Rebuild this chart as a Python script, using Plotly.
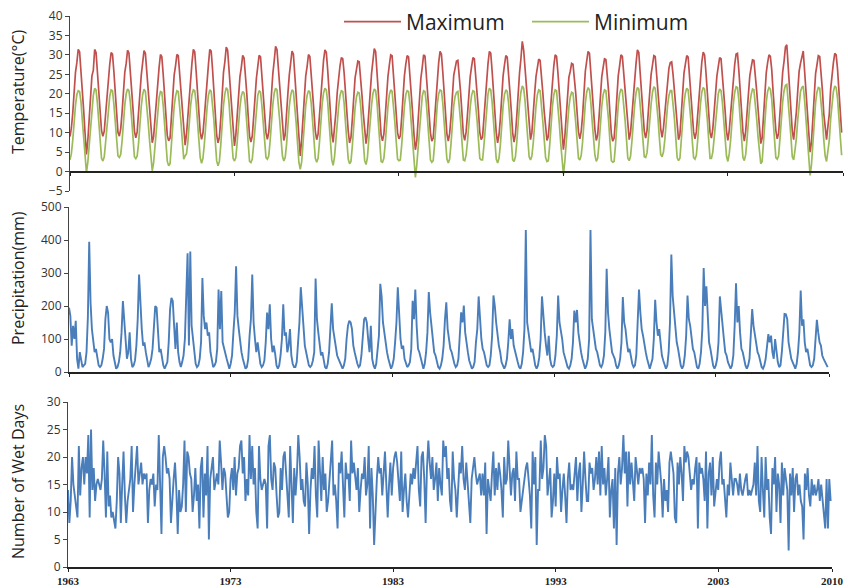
import plotly.graph_objects as go

years = list(range(1963, 2010))

tmax = [
    [9.0, 11.2, 15.0, 21.0, 25.5, 28.0, 31.4, 30.8, 26.2, 21.0, 15.6, 9.8],
    [4.4, 8.0, 13.2, 20.5, 24.6, 26.0, 31.4, 30.6, 25.5, 20.2, 15.0, 10.5],
    [9.1, 10.4, 14.8, 19.8, 24.5, 27.6, 30.6, 30.2, 25.8, 20.5, 15.2, 10.1],
    [9.1, 11.0, 15.2, 21.2, 25.6, 27.8, 31.2, 30.5, 26.4, 21.3, 16.0, 10.4],
    [8.7, 10.2, 14.1, 20.0, 24.8, 28.2, 31.1, 30.4, 25.6, 20.4, 15.8, 9.6],
    [7.4, 9.0, 13.8, 19.6, 24.0, 26.8, 30.1, 29.5, 25.0, 19.9, 14.6, 9.2],
    [7.9, 8.6, 14.0, 20.4, 24.8, 27.2, 30.1, 29.8, 25.2, 20.1, 15.1, 9.0],
    [6.8, 9.6, 14.3, 20.2, 25.4, 28.0, 31.4, 30.8, 26.0, 20.6, 15.5, 10.2],
    [8.3, 9.9, 14.0, 19.2, 24.2, 27.5, 31.4, 31.0, 26.3, 21.0, 15.4, 9.4],
    [7.4, 8.8, 13.6, 20.0, 25.5, 28.2, 32.0, 31.2, 26.0, 20.2, 14.9, 9.8],
    [6.6, 9.4, 14.5, 20.6, 24.4, 26.8, 29.9, 29.2, 25.3, 20.0, 14.4, 9.1],
    [7.6, 9.2, 14.0, 19.5, 24.0, 27.0, 29.9, 29.5, 25.0, 20.4, 15.0, 10.0],
    [8.3, 10.1, 14.6, 20.8, 25.2, 28.5, 32.2, 31.4, 26.2, 21.0, 16.0, 12.0],
    [8.0, 9.5, 13.8, 20.2, 24.8, 27.4, 31.0, 30.2, 25.4, 20.0, 14.7, 9.0],
    [4.0, 8.2, 14.2, 20.6, 24.6, 27.0, 30.1, 29.6, 25.6, 20.8, 15.4, 10.3],
    [8.2, 9.6, 14.6, 21.0, 25.8, 28.6, 31.3, 30.7, 26.2, 20.5, 15.0, 9.8],
    [7.5, 10.8, 15.2, 20.4, 24.6, 27.2, 29.3, 29.0, 25.4, 20.2, 14.6, 10.4],
    [7.4, 8.8, 13.5, 19.6, 24.1, 26.2, 28.4, 28.2, 24.8, 19.8, 14.9, 9.6],
    [7.2, 10.0, 15.5, 20.8, 25.1, 28.4, 31.6, 30.8, 26.0, 20.1, 14.8, 9.4],
    [7.9, 9.6, 14.2, 20.0, 24.5, 27.4, 30.0, 29.8, 25.1, 20.6, 15.3, 10.0],
    [8.4, 9.2, 13.8, 19.5, 24.6, 27.6, 29.8, 29.5, 25.2, 20.0, 15.0, 9.5],
    [5.6, 7.8, 13.0, 19.8, 24.0, 26.8, 30.0, 29.7, 25.4, 20.4, 14.8, 9.9],
    [7.8, 8.6, 13.8, 20.4, 25.2, 28.0, 30.9, 30.2, 25.6, 20.0, 15.4, 9.7],
    [7.8, 9.8, 14.0, 20.6, 24.8, 26.6, 28.4, 28.6, 24.9, 20.3, 15.0, 9.6],
    [8.0, 10.2, 14.6, 20.3, 24.4, 27.0, 29.3, 29.0, 25.2, 20.8, 15.6, 10.1],
    [8.2, 8.9, 13.4, 19.4, 24.6, 27.8, 30.9, 30.4, 25.8, 20.2, 15.0, 10.0],
    [7.4, 9.4, 13.6, 20.2, 24.6, 27.4, 29.8, 29.4, 25.6, 20.4, 15.5, 9.9],
    [7.6, 9.6, 14.4, 20.8, 25.4, 29.0, 33.5, 31.2, 26.6, 20.8, 15.2, 10.6],
    [8.2, 10.0, 14.0, 20.0, 24.4, 26.8, 28.9, 28.6, 25.0, 20.2, 15.4, 10.4],
    [8.0, 9.0, 13.6, 20.4, 24.8, 27.2, 30.0, 29.6, 25.4, 20.0, 14.6, 9.5],
    [5.6, 8.8, 14.0, 20.2, 24.2, 25.8, 27.8, 27.6, 24.6, 20.1, 15.2, 10.2],
    [8.4, 10.4, 14.4, 21.0, 25.8, 28.4, 30.9, 30.4, 25.4, 20.2, 15.6, 10.8],
    [8.0, 9.4, 14.0, 20.0, 24.4, 26.8, 29.0, 28.8, 25.2, 20.5, 14.8, 9.6],
    [7.8, 8.6, 13.4, 19.6, 24.6, 27.2, 30.0, 29.6, 25.2, 20.6, 15.6, 10.2],
    [8.2, 10.1, 14.6, 20.6, 25.0, 27.8, 31.3, 30.6, 25.4, 20.4, 15.4, 10.4],
    [8.6, 10.6, 15.6, 21.4, 25.0, 27.4, 29.8, 29.6, 25.6, 21.0, 16.0, 11.0],
    [8.8, 11.2, 15.0, 20.6, 24.2, 26.6, 28.0, 28.2, 25.0, 20.6, 15.4, 10.6],
    [8.2, 9.4, 14.8, 21.4, 25.4, 27.6, 29.8, 29.4, 25.2, 20.6, 15.0, 10.2],
    [8.4, 10.2, 15.0, 20.8, 25.2, 28.2, 30.7, 30.0, 25.6, 20.8, 15.2, 10.0],
    [8.6, 11.0, 15.4, 20.6, 24.6, 27.0, 29.3, 29.0, 25.0, 20.4, 15.6, 10.4],
    [8.0, 10.6, 14.8, 20.6, 24.8, 27.6, 30.2, 30.4, 26.0, 20.6, 15.2, 10.2],
    [7.8, 10.4, 15.2, 20.8, 24.6, 26.8, 28.7, 28.6, 25.4, 20.8, 16.2, 10.8],
    [7.2, 8.6, 14.0, 21.2, 25.4, 28.0, 30.0, 29.6, 26.2, 20.6, 15.6, 10.6],
    [8.4, 9.8, 15.0, 21.4, 25.6, 28.4, 32.0, 32.6, 26.4, 21.4, 15.8, 10.4],
    [8.2, 11.4, 15.4, 20.8, 25.8, 27.8, 29.8, 31.0, 25.8, 20.8, 15.6, 11.0],
    [5.0, 7.6, 14.6, 20.6, 25.2, 27.4, 29.8, 29.6, 25.6, 20.8, 14.8, 10.6],
    [8.2, 11.6, 14.8, 21.2, 25.0, 28.0, 30.4, 30.0, 26.4, 21.0, 13.6, 10.0],
]

tmin = [
    [3.0, 4.6, 8.0, 13.0, 17.0, 19.8, 20.8, 20.6, 18.0, 13.2, 8.2, 3.2],
    [-0.3, 2.4, 6.8, 12.6, 16.6, 19.6, 21.4, 21.0, 17.6, 12.8, 7.6, 3.4],
    [2.7, 3.8, 7.6, 12.4, 16.8, 19.4, 21.0, 20.8, 17.4, 13.0, 8.0, 4.0],
    [3.6, 4.4, 7.8, 13.2, 17.2, 20.0, 21.2, 20.8, 18.0, 13.4, 8.6, 3.8],
    [3.3, 4.0, 7.2, 12.4, 16.8, 19.8, 21.2, 20.6, 17.4, 12.8, 8.2, 3.0],
    [0.2, 2.2, 6.6, 12.0, 16.2, 19.0, 20.6, 20.4, 17.0, 12.4, 7.4, 2.6],
    [1.5, 2.0, 7.0, 12.6, 16.8, 19.4, 20.8, 20.6, 17.4, 12.6, 7.6, 3.2],
    [4.0, 4.6, 7.6, 12.8, 17.0, 19.8, 21.0, 20.8, 17.8, 13.0, 8.0, 3.6],
    [2.1, 3.4, 7.0, 12.2, 16.4, 19.6, 21.0, 20.6, 17.6, 13.2, 7.8, 2.8],
    [1.5, 2.6, 6.8, 12.4, 17.0, 20.0, 21.6, 21.0, 17.8, 12.6, 7.4, 3.4],
    [2.7, 3.6, 7.6, 12.8, 16.6, 19.4, 20.6, 20.2, 17.2, 12.4, 7.2, 2.6],
    [2.3, 3.2, 7.0, 12.0, 16.4, 19.6, 20.8, 20.4, 17.0, 12.8, 7.8, 3.6],
    [3.2, 4.0, 7.8, 13.0, 17.2, 20.2, 21.4, 21.0, 17.8, 13.2, 8.4, 4.0],
    [2.7, 3.6, 7.0, 12.6, 16.8, 19.6, 21.0, 20.6, 17.4, 12.6, 7.4, 2.4],
    [0.6, 2.4, 7.2, 12.8, 17.0, 19.6, 20.8, 20.4, 17.6, 13.0, 8.0, 3.4],
    [2.4, 3.4, 7.4, 13.0, 17.4, 20.2, 21.4, 21.0, 18.0, 12.8, 7.6, 3.0],
    [1.6, 3.8, 8.0, 12.8, 16.8, 19.6, 20.8, 20.6, 17.6, 12.6, 7.2, 3.2],
    [2.0, 2.6, 6.6, 12.2, 16.4, 19.2, 20.4, 20.2, 17.2, 12.2, 7.4, 2.8],
    [1.8, 3.6, 8.2, 13.2, 17.0, 20.0, 21.2, 20.8, 17.8, 12.6, 7.2, 2.6],
    [2.4, 3.4, 7.2, 12.4, 16.8, 19.8, 21.0, 20.6, 17.2, 12.8, 7.8, 3.2],
    [2.8, 3.0, 6.8, 12.2, 16.8, 19.8, 20.8, 20.6, 17.4, 12.4, 7.6, 2.4],
    [-1.5, 1.6, 6.2, 12.4, 16.4, 19.4, 20.8, 20.6, 17.6, 12.8, 7.4, 3.0],
    [2.4, 2.8, 7.0, 12.8, 17.4, 20.0, 21.0, 20.8, 17.6, 12.6, 8.0, 3.2],
    [2.2, 3.2, 7.2, 12.8, 17.0, 19.4, 20.4, 20.6, 17.4, 12.8, 7.6, 3.0],
    [2.8, 4.2, 7.6, 12.6, 16.6, 19.6, 20.8, 20.6, 17.6, 13.2, 8.2, 3.4],
    [3.0, 3.0, 6.6, 12.0, 16.8, 20.0, 21.4, 21.0, 17.8, 12.6, 7.6, 3.2],
    [2.2, 3.4, 6.8, 12.6, 16.8, 19.8, 21.0, 20.6, 17.6, 12.8, 8.0, 3.0],
    [2.6, 3.8, 7.6, 13.0, 17.4, 20.4, 22.0, 21.4, 18.2, 13.2, 8.0, 3.8],
    [3.0, 4.0, 7.4, 12.6, 16.8, 19.8, 21.0, 20.8, 17.6, 12.8, 8.2, 3.6],
    [2.6, 2.8, 6.8, 12.8, 16.8, 19.8, 21.0, 20.8, 17.4, 12.4, 7.4, 2.6],
    [-0.7, 2.4, 7.0, 12.6, 16.6, 19.2, 20.4, 20.2, 17.2, 12.6, 8.0, 3.4],
    [3.0, 4.2, 7.6, 13.2, 17.6, 20.4, 21.6, 21.0, 17.8, 12.8, 8.4, 4.2],
    [2.6, 3.4, 7.2, 12.6, 16.8, 19.8, 21.0, 20.8, 17.6, 13.0, 7.6, 2.8],
    [2.4, 2.6, 6.8, 12.2, 17.0, 20.0, 21.2, 20.8, 17.6, 13.2, 8.4, 3.4],
    [2.8, 4.0, 7.8, 13.0, 17.2, 20.2, 21.6, 21.2, 17.8, 13.0, 8.2, 3.8],
    [3.6, 4.8, 8.6, 13.8, 17.4, 20.4, 21.8, 21.4, 18.4, 13.8, 8.8, 4.4],
    [3.8, 5.0, 8.2, 13.2, 17.0, 19.6, 20.8, 20.8, 17.8, 13.6, 8.6, 3.6],
    [2.8, 3.4, 8.0, 13.6, 17.6, 20.2, 21.4, 21.0, 17.8, 13.2, 8.0, 3.6],
    [3.2, 4.2, 8.2, 13.2, 17.4, 20.4, 21.6, 21.2, 18.0, 13.4, 8.2, 3.4],
    [3.4, 5.0, 8.6, 13.2, 17.2, 20.0, 21.2, 20.8, 17.8, 13.2, 8.6, 4.0],
    [2.6, 4.6, 8.0, 13.2, 17.4, 20.4, 21.8, 21.6, 18.4, 13.4, 8.2, 3.6],
    [2.8, 4.4, 8.4, 13.4, 17.4, 19.8, 21.2, 21.0, 18.0, 13.6, 9.0, 4.2],
    [2.0, 2.6, 7.4, 13.8, 17.8, 20.6, 21.6, 21.2, 18.6, 13.4, 8.8, 3.6],
    [3.2, 4.0, 8.4, 14.0, 18.0, 20.8, 22.2, 22.4, 18.6, 14.4, 9.0, 3.8],
    [3.0, 5.6, 8.6, 13.4, 18.2, 20.6, 21.6, 22.0, 18.2, 13.6, 8.6, 4.4],
    [-1.0, 1.8, 8.0, 13.4, 17.8, 20.4, 21.6, 21.4, 18.2, 13.8, 8.0, 4.0],
    [2.6, 5.4, 8.0, 13.6, 17.6, 20.6, 22.0, 21.6, 18.8, 13.8, 6.8, 4.2],
]

precip = [
    [195, 170, 80, 140, 100, 155, 40, 10, 60, 30, 15, 20],
    [25, 60, 165, 395, 210, 130, 90, 60, 70, 40, 20, 15],
    [20, 40, 70, 160, 200, 180, 100, 90, 100, 50, 30, 10],
    [15, 30, 60, 120, 215, 150, 90, 40, 60, 120, 40, 15],
    [20, 35, 80, 160, 295, 200, 130, 80, 90, 60, 30, 15],
    [25, 40, 70, 130, 200, 195, 120, 60, 70, 40, 20, 10],
    [20, 30, 90, 190, 225, 215, 140, 70, 150, 60, 30, 15],
    [30, 50, 100, 210, 360, 80, 365, 140, 100, 50, 25, 15],
    [20, 40, 90, 285, 170, 130, 150, 110, 120, 60, 30, 15],
    [20, 30, 70, 250, 130, 245, 90, 70, 60, 40, 25, 10],
    [25, 50, 120, 180, 320, 170, 130, 90, 60, 40, 20, 10],
    [15, 40, 110, 160, 295, 150, 100, 60, 90, 50, 25, 15],
    [20, 35, 90, 180, 130, 205, 100, 60, 80, 55, 20, 10],
    [20, 50, 100, 205, 110, 120, 60, 80, 130, 50, 25, 15],
    [15, 30, 80, 150, 257, 190, 150, 80, 60, 35, 20, 15],
    [20, 35, 60, 283, 160, 120, 80, 50, 60, 35, 15, 10],
    [25, 60, 140, 208, 130, 100, 80, 50, 40, 30, 20, 10],
    [20, 40, 100, 140, 155, 150, 130, 80, 60, 40, 25, 15],
    [20, 50, 120, 160, 166, 150, 100, 60, 140, 40, 20, 10],
    [25, 60, 110, 267, 229, 150, 120, 80, 60, 40, 20, 10],
    [20, 40, 90, 150, 257, 180, 100, 70, 80, 40, 25, 15],
    [20, 30, 70, 216, 160, 250, 140, 70, 60, 40, 20, 10],
    [25, 60, 120, 242, 180, 140, 100, 60, 50, 30, 15, 10],
    [20, 40, 80, 160, 211, 130, 100, 70, 60, 40, 25, 15],
    [20, 40, 100, 181, 150, 201, 120, 80, 60, 35, 20, 10],
    [15, 30, 90, 130, 229, 140, 100, 70, 60, 40, 20, 15],
    [20, 50, 110, 232, 200, 150, 110, 80, 60, 30, 20, 10],
    [20, 40, 90, 160, 100, 130, 80, 60, 50, 30, 15, 10],
    [25, 60, 130, 430, 150, 120, 90, 60, 70, 40, 20, 10],
    [20, 45, 100, 229, 160, 120, 80, 50, 110, 40, 20, 15],
    [20, 50, 110, 232, 150, 130, 100, 60, 40, 30, 15, 10],
    [20, 40, 90, 186, 150, 188, 120, 80, 60, 40, 20, 10],
    [20, 40, 100, 430, 160, 120, 100, 70, 60, 40, 20, 15],
    [25, 50, 120, 313, 180, 130, 90, 60, 50, 40, 20, 10],
    [20, 40, 90, 227, 150, 130, 90, 60, 70, 40, 25, 15],
    [20, 50, 140, 250, 180, 130, 110, 80, 60, 40, 20, 10],
    [25, 40, 100, 219, 150, 110, 130, 80, 50, 35, 20, 10],
    [20, 60, 150, 356, 230, 180, 130, 90, 70, 40, 20, 10],
    [20, 50, 110, 232, 160, 140, 100, 70, 60, 30, 15, 10],
    [25, 60, 130, 315, 200, 260, 150, 90, 70, 40, 20, 10],
    [20, 40, 90, 229, 180, 130, 100, 60, 50, 30, 20, 10],
    [20, 50, 140, 269, 150, 200, 120, 70, 60, 35, 20, 10],
    [20, 40, 100, 191, 140, 110, 80, 60, 50, 30, 15, 10],
    [20, 40, 80, 115, 90, 110, 60, 40, 100, 60, 30, 15],
    [20, 60, 110, 176, 175, 160, 90, 60, 40, 30, 20, 10],
    [25, 60, 120, 247, 140, 160, 90, 60, 70, 40, 20, 15],
    [20, 40, 110, 158, 120, 90, 80, 50, 40, 30, 20, 15],
]

wetdays = [
    [14, 8, 12, 20, 15, 13, 10, 9, 22, 13, 18, 20],
    [15, 20, 17, 24, 9, 25, 14, 18, 12, 15, 16, 15],
    [14, 16, 23, 17, 9, 21, 11, 13, 9, 10, 8, 7],
    [12, 20, 17, 8, 15, 21, 13, 8, 12, 14, 16, 22],
    [10, 15, 18, 22, 15, 17, 19, 15, 17, 16, 17, 8],
    [14, 16, 15, 17, 11, 15, 14, 24, 16, 6, 20, 22],
    [20, 17, 18, 16, 8, 13, 16, 19, 14, 6, 14, 10],
    [11, 15, 23, 10, 21, 20, 17, 16, 10, 13, 18, 12],
    [15, 7, 18, 20, 9, 17, 13, 22, 5, 16, 18, 20],
    [14, 16, 17, 15, 23, 19, 14, 18, 17, 13, 9, 10],
    [16, 18, 14, 20, 13, 17, 18, 22, 23, 17, 20, 12],
    [16, 13, 24, 16, 22, 15, 18, 10, 7, 22, 16, 14],
    [15, 16, 15, 7, 22, 24, 16, 14, 19, 18, 13, 9],
    [10, 18, 14, 20, 21, 17, 12, 9, 22, 15, 8, 18],
    [13, 17, 24, 20, 14, 16, 12, 11, 19, 15, 6, 14],
    [18, 16, 22, 13, 9, 23, 16, 12, 20, 14, 17, 10],
    [12, 16, 18, 23, 13, 15, 12, 7, 19, 17, 21, 14],
    [9, 19, 16, 17, 12, 23, 17, 19, 16, 14, 18, 10],
    [14, 17, 16, 20, 13, 15, 22, 7, 18, 13, 4, 12],
    [16, 20, 17, 18, 13, 17, 21, 15, 9, 15, 19, 13],
    [18, 20, 21, 19, 15, 12, 21, 10, 14, 17, 12, 9],
    [13, 17, 15, 18, 16, 19, 22, 14, 11, 20, 21, 16],
    [8, 18, 23, 19, 16, 20, 14, 16, 19, 12, 18, 15],
    [13, 23, 20, 22, 16, 18, 12, 10, 21, 16, 14, 9],
    [14, 19, 17, 22, 16, 14, 19, 15, 13, 8, 16, 18],
    [20, 17, 15, 16, 17, 13, 17, 13, 19, 6, 16, 14],
    [12, 17, 21, 13, 18, 14, 19, 17, 14, 9, 20, 15],
    [16, 23, 19, 13, 17, 18, 12, 21, 16, 16, 10, 12],
    [15, 17, 18, 19, 16, 13, 7, 21, 15, 20, 4, 14],
    [14, 23, 16, 18, 24, 22, 13, 15, 18, 9, 12, 17],
    [11, 20, 16, 17, 10, 14, 17, 13, 8, 16, 19, 14],
    [15, 14, 18, 20, 12, 17, 19, 10, 15, 21, 16, 12],
    [12, 19, 17, 18, 14, 16, 20, 15, 21, 13, 22, 15],
    [18, 13, 16, 20, 9, 14, 16, 7, 18, 4, 17, 20],
    [15, 18, 24, 17, 21, 11, 21, 15, 19, 16, 12, 20],
    [18, 15, 18, 17, 18, 16, 8, 17, 13, 19, 15, 24],
    [13, 9, 19, 15, 21, 18, 15, 9, 16, 12, 14, 10],
    [19, 21, 19, 17, 9, 8, 19, 15, 20, 17, 12, 22],
    [19, 21, 20, 16, 14, 16, 15, 18, 20, 7, 19, 17],
    [18, 16, 12, 21, 7, 17, 19, 13, 20, 11, 14, 16],
    [14, 19, 21, 15, 16, 12, 9, 15, 13, 19, 16, 13],
    [16, 16, 15, 13, 17, 14, 13, 15, 16, 17, 13, 14],
    [13, 14, 15, 19, 13, 22, 12, 10, 20, 14, 9, 20],
    [14, 16, 9, 6, 18, 15, 20, 10, 17, 15, 8, 19],
    [13, 18, 16, 14, 3, 17, 13, 18, 10, 16, 17, 13],
    [15, 12, 11, 5, 17, 14, 18, 13, 11, 16, 13, 15],
    [13, 14, 16, 12, 15, 12, 9, 7, 16, 7, 16, 12],
]

tick_years = [1963, 1973, 1983, 1993, 2003, 2010]
tick_text = ["1963", "1973", "1983", "1993", "2003", "2010"]

# monthly time axis as decimal years
t = [y + m / 12.0 for y in years for m in range(12)]
flat = lambda rows: [v for r in rows for v in r]

RED = "#C0504D"
GREEN = "#9BBB59"
BLUE = "#4A7EBB"
W, H = 848, 588

def px_x(p):
    return p / W

def px_y(p):
    return (H - p) / H

fig = go.Figure()
fig.add_trace(go.Scatter(x=t, y=flat(tmax), mode="lines", name="Maximum",
                         line=dict(color=RED, width=1.7), xaxis="x", yaxis="y"))
fig.add_trace(go.Scatter(x=t, y=flat(tmin), mode="lines", name="Minimum",
                         line=dict(color=GREEN, width=1.7), xaxis="x", yaxis="y"))
fig.add_trace(go.Scatter(x=t, y=flat(precip), mode="lines", showlegend=False,
                         line=dict(color=BLUE, width=1.9), xaxis="x2", yaxis="y2"))
fig.add_trace(go.Scatter(x=t, y=flat(wetdays), mode="lines", showlegend=False,
                         line=dict(color=BLUE, width=1.9), xaxis="x3", yaxis="y3"))

tickfont = dict(family="Open Sans", size=12, color="#333333")
xcommon = dict(range=[1963, 2010], tickvals=tick_years, ticks="outside", ticklen=3,
               tickcolor="#222222", showgrid=False, zeroline=False, showline=True,
               linecolor="#222222", linewidth=1.6, automargin=False)
ycommon = dict(showgrid=False, zeroline=False, showline=True, linecolor="#444444",
               linewidth=1, ticks="outside", ticklen=4, tickcolor="#444444",
               tickfont=tickfont, automargin=False)

fig.update_layout(
    width=W, height=H, autosize=False,
    margin=dict(l=0, r=0, t=0, b=0, pad=0, autoexpand=False),
    paper_bgcolor="white", plot_bgcolor="white",
    showlegend=True,
    legend=dict(orientation="h", x=px_x(339), y=px_y(22), xanchor="left", yanchor="middle",
                font=dict(family="Open Sans", size=21, color="#222222"),
                bgcolor="rgba(255,255,255,0)", itemwidth=57,
                entrywidth=116, entrywidthmode="pixels"),
    xaxis=dict(xcommon, domain=[px_x(70), px_x(843)], anchor="free",
               position=px_y(172), showticklabels=False),
    yaxis=dict(ycommon, domain=[px_y(191), px_y(16)], range=[-5, 40],
               tickvals=[-5, 0, 5, 10, 15, 20, 25, 30, 35, 40], anchor="x"),
    xaxis2=dict(xcommon, domain=[px_x(69), px_x(829)], anchor="y2", showticklabels=False),
    yaxis2=dict(ycommon, domain=[px_y(372), px_y(207)], range=[0, 500],
                tickvals=[0, 100, 200, 300, 400, 500], anchor="x2"),
    xaxis3=dict(xcommon, domain=[px_x(68), px_x(832)], anchor="y3", showticklabels=True,
                ticktext=tick_text,
                tickfont=dict(family="Liberation Serif", size=11, color="#222222", weight="bold")),
    yaxis3=dict(ycommon, domain=[px_y(567), px_y(402)], range=[0, 30],
                tickvals=[0, 5, 10, 15, 20, 25, 30], anchor="x3"),
)

titlefont = dict(family="Open Sans", size=16, color="#222222")
for text, yc in [("Temperature(°C)", 92), ("Precipitation(mm)", 278), ("Number of Wet Days", 482)]:
    fig.add_annotation(text=text, xref="paper", yref="paper", x=px_x(18), y=px_y(yc),
                       xanchor="center", yanchor="middle", textangle=-90,
                       showarrow=False, font=titlefont)

fig.write_html("out.html", config={"displayModeBar": False},
               post_script="document.body.style.margin='0';")
